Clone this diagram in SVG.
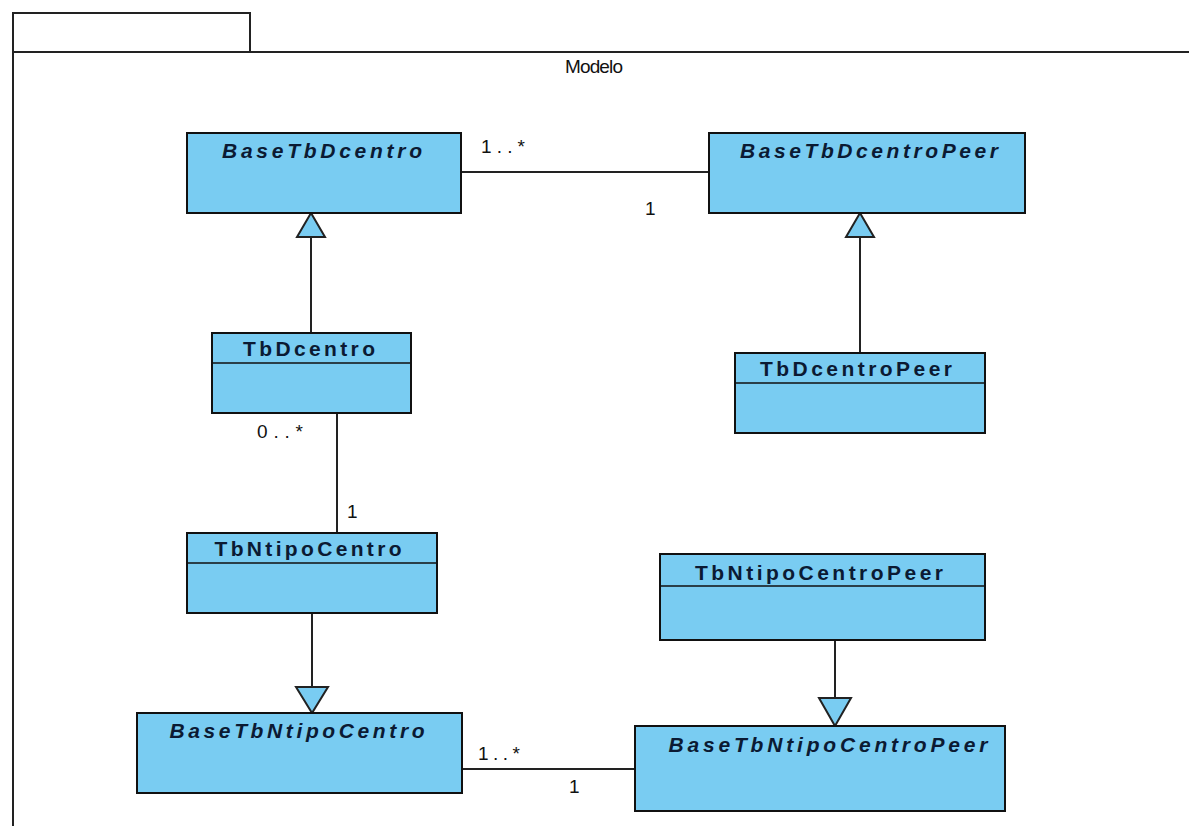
<svg xmlns="http://www.w3.org/2000/svg" width="1189" height="826" viewBox="0 0 1189 826">
<style>
.pkg{fill:none;stroke:#222;stroke-width:2}
.cls{fill:#79ccf2;stroke:#111;stroke-width:2}
.div{stroke:#111;stroke-width:1.5}
.ln{stroke:#222;stroke-width:2;fill:none}
.tri{fill:#79ccf2;stroke:#222;stroke-width:2}
.nm{font-family:"Liberation Sans",Arial,sans-serif;font-size:21px;font-weight:bold;fill:#0b1a33;text-anchor:middle}
.ab{font-style:italic}
.lb{font-family:"Liberation Sans",Arial,sans-serif;font-size:19px;fill:#111}
</style>
<rect width="1189" height="826" fill="#fff"/>
<g id="package">
<path class="pkg" d="M13,826 V13 H250 V52 M13,52 H1189"/>
<text class="lb" x="565" y="73" font-size="17" textLength="58" lengthAdjust="spacing">Modelo</text>
</g>
<g id="connectors">
<line class="ln" x1="461" y1="172" x2="709" y2="172"/>
<line class="ln" x1="311" y1="237" x2="311" y2="333"/>
<polygon class="tri" points="311,213 297,237 325,237"/>
<line class="ln" x1="860" y1="237" x2="860" y2="353"/>
<polygon class="tri" points="860,213 846,237 874,237"/>
<line class="ln" x1="337" y1="413" x2="337" y2="533"/>
<line class="ln" x1="312" y1="613" x2="312" y2="687"/>
<polygon class="tri" points="312,713 296,687 328,687"/>
<line class="ln" x1="835" y1="640" x2="835" y2="698"/>
<polygon class="tri" points="835,726 819,698 851,698"/>
<line class="ln" x1="462" y1="769" x2="635" y2="769"/>
<text class="lb" x="481" y="153" textLength="44" lengthAdjust="spacing">1..*</text>
<text class="lb" x="645" y="215">1</text>
<text class="lb" x="257" y="438" textLength="46" lengthAdjust="spacing">0..*</text>
<text class="lb" x="347" y="518">1</text>
<text class="lb" x="478" y="760" textLength="42" lengthAdjust="spacing">1..*</text>
<text class="lb" x="569" y="793">1</text>
</g>
<g id="BaseTbDcentro">
<rect class="cls" x="187" y="133" width="274" height="80"/>
<text class="nm ab" x="322" y="158" textLength="200" lengthAdjust="spacing">BaseTbDcentro</text>
</g>
<g id="BaseTbDcentroPeer">
<rect class="cls" x="709" y="133" width="316" height="80"/>
<text class="nm ab" x="869" y="158" textLength="258" lengthAdjust="spacing">BaseTbDcentroPeer</text>
</g>
<g id="TbDcentro">
<rect class="cls" x="212" y="333" width="199" height="80"/>
<line class="div" x1="212" y1="363" x2="411" y2="363"/>
<text class="nm" x="309" y="356" textLength="132" lengthAdjust="spacing">TbDcentro</text>
</g>
<g id="TbDcentroPeer">
<rect class="cls" x="735" y="353" width="250" height="80"/>
<line class="div" x1="735" y1="383" x2="985" y2="383"/>
<text class="nm" x="856" y="376" textLength="192" lengthAdjust="spacing">TbDcentroPeer</text>
</g>
<g id="TbNtipoCentro">
<rect class="cls" x="187" y="533" width="250" height="80"/>
<line class="div" x1="187" y1="563" x2="437" y2="563"/>
<text class="nm" x="308" y="556" textLength="187" lengthAdjust="spacing">TbNtipoCentro</text>
</g>
<g id="TbNtipoCentroPeer">
<rect class="cls" x="660" y="554" width="325" height="86"/>
<line class="div" x1="660" y1="586" x2="985" y2="586"/>
<text class="nm" x="819" y="580" textLength="248" lengthAdjust="spacing">TbNtipoCentroPeer</text>
</g>
<g id="BaseTbNtipoCentro">
<rect class="cls" x="137" y="713" width="325" height="80"/>
<text class="nm ab" x="297" y="738" textLength="255" lengthAdjust="spacing">BaseTbNtipoCentro</text>
</g>
<g id="BaseTbNtipoCentroPeer">
<rect class="cls" x="635" y="726" width="370" height="85"/>
<text class="nm ab" x="828" y="752" textLength="319" lengthAdjust="spacing">BaseTbNtipoCentroPeer</text>
</g>
</svg>
